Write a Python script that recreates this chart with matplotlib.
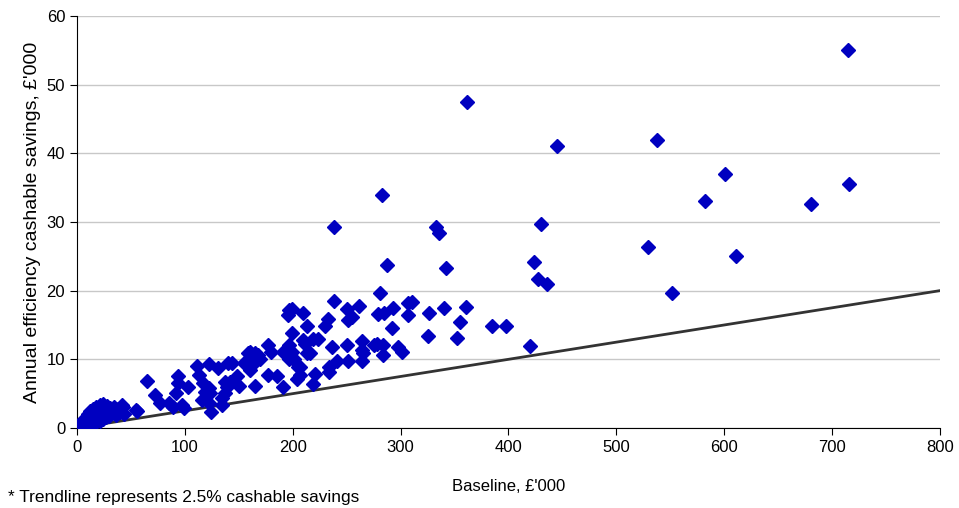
import matplotlib.pyplot as plt

plt.rcParams['font.family'] = ['Liberation Sans', 'DejaVu Sans']

# baseline (£'000) and annual cashable savings (£'000)
baseline = [
    1, 2, 3, 3, 4, 5, 5, 6, 6, 7, 8, 8, 9, 10, 10, 11, 12, 12, 13, 14, 15, 15,
    16, 17, 18, 18, 19, 20, 21, 21, 22, 23, 24, 24, 25, 26, 27, 28, 29, 30, 31,
    32, 34, 35, 36, 38, 40, 42, 44, 43, 55,
    362, 445, 283, 238, 333, 336, 430, 287, 342, 424, 427, 436, 281, 238, 210,
    250, 261, 255, 251, 233, 230, 213, 279, 285, 293, 307, 311, 307, 292, 326,
    340, 361, 355, 325, 352, 385, 398, 420,
    715, 538, 601, 716, 582, 681, 529, 611, 552,
    210, 219, 223, 236, 250, 264, 264, 265, 264, 251, 241, 234, 234, 221, 207,
    207, 219, 216, 278, 284, 284, 298, 301, 275,
    197, 199, 196, 199, 197, 199, 191, 197, 200, 177, 180, 160, 165, 168, 165,
    170, 166, 155, 159, 160, 144, 140, 131, 122, 111, 113, 94, 94, 103, 92, 72,
    65, 56, 77, 85, 89, 97, 99, 117, 122, 119, 123, 116, 122, 124, 134, 134,
    137, 139, 142, 137, 148, 150, 166, 165, 177, 185, 191, 204, 205, 213, 211,
    201,
]
savings = [
    0.1, 0.3, 0.2, 0.6, 0.4, 0.9, 0.2, 1.2, 0.5, 0.8, 1.5, 0.3, 1.0, 2.0, 0.6,
    1.3, 2.5, 0.8, 1.7, 1.1, 2.8, 0.5, 2.0, 1.4, 3.0, 0.9, 2.3, 1.7, 3.3, 1.0,
    2.6, 2.0, 3.5, 1.3, 2.9, 2.2, 1.6, 3.2, 2.5, 1.8, 2.9, 2.2, 3.0, 2.3, 1.9,
    2.7, 2.4, 3.3, 2.0, 3.1, 2.6,
    47.5, 41.0, 34.0, 29.2, 29.2, 28.4, 29.7, 23.7, 23.3, 24.2, 21.7, 21.0,
    19.7, 18.5, 16.8, 17.3, 17.8, 16.1, 15.7, 15.9, 14.8, 14.8, 16.6, 16.7,
    17.5, 18.2, 18.3, 16.4, 14.6, 16.7, 17.5, 17.6, 15.5, 13.4, 13.1, 14.9,
    14.9, 12.0,
    55.0, 42.0, 37.0, 35.5, 33.0, 32.6, 26.4, 25.0, 19.6,
    12.8, 13.0, 13.0, 11.8, 12.1, 12.6, 11.4, 10.9, 9.7, 9.8, 9.8, 8.9, 8.1,
    7.8, 8.9, 7.7, 6.4, 10.9, 12.3, 12.1, 10.6, 11.8, 11.0, 12.1,
    17.2, 17.4, 16.5, 13.9, 12.1, 11.1, 11.1, 10.1, 10.1, 12.1, 11.1, 11.1,
    10.9, 10.6, 10.1, 10.1, 9.7, 9.4, 10.9, 8.4, 9.5, 9.4, 8.7, 9.3, 9.1, 7.7,
    7.5, 6.5, 5.9, 5.1, 4.8, 6.8, 2.5, 3.7, 3.6, 3.1, 3.3, 2.9, 6.5, 5.8, 5.3,
    5.1, 4.1, 3.6, 2.4, 3.3, 4.3, 5.1, 6.0, 6.7, 6.7, 7.6, 6.1, 10.6, 6.1, 7.7,
    7.6, 6.0, 7.2, 8.9, 10.9, 12.3, 10.1,
]

trend_rate = 0.025
trend_x = [0, 800]

fig = plt.figure(figsize=(9.59, 5.08), dpi=100)
ax = fig.add_axes([0.0803, 0.1575, 0.8997, 0.811])

ax.plot(trend_x, [v * trend_rate for v in trend_x], color='#333333', lw=2, zorder=2)
ax.plot(baseline, savings, 'D', color='#0000C0', ms=7, mec='#0000C0', zorder=3)

ax.set_xlim(0, 800)
ax.set_ylim(0, 60)
ax.set_xticks(range(0, 801, 100))
ax.set_yticks(range(0, 61, 10))
ax.yaxis.grid(True, color='#c8c8c8', lw=1)
ax.set_axisbelow(True)
for s in ['top', 'right']:
    ax.spines[s].set_visible(False)
ax.tick_params(labelsize=12, length=5, color='black')
ax.set_xlabel("Baseline, £'000", fontsize=12)
ax.xaxis.set_label_coords(0.5, -0.125)
ax.set_ylabel("Annual efficiency cashable savings, £'000", fontsize=14)
ax.yaxis.set_label_coords(-0.042, 0.5)

fig.text(0.008, 0.012, '* Trendline represents 2.5% cashable savings', fontsize=12.4)

fig.savefig('out.png')
